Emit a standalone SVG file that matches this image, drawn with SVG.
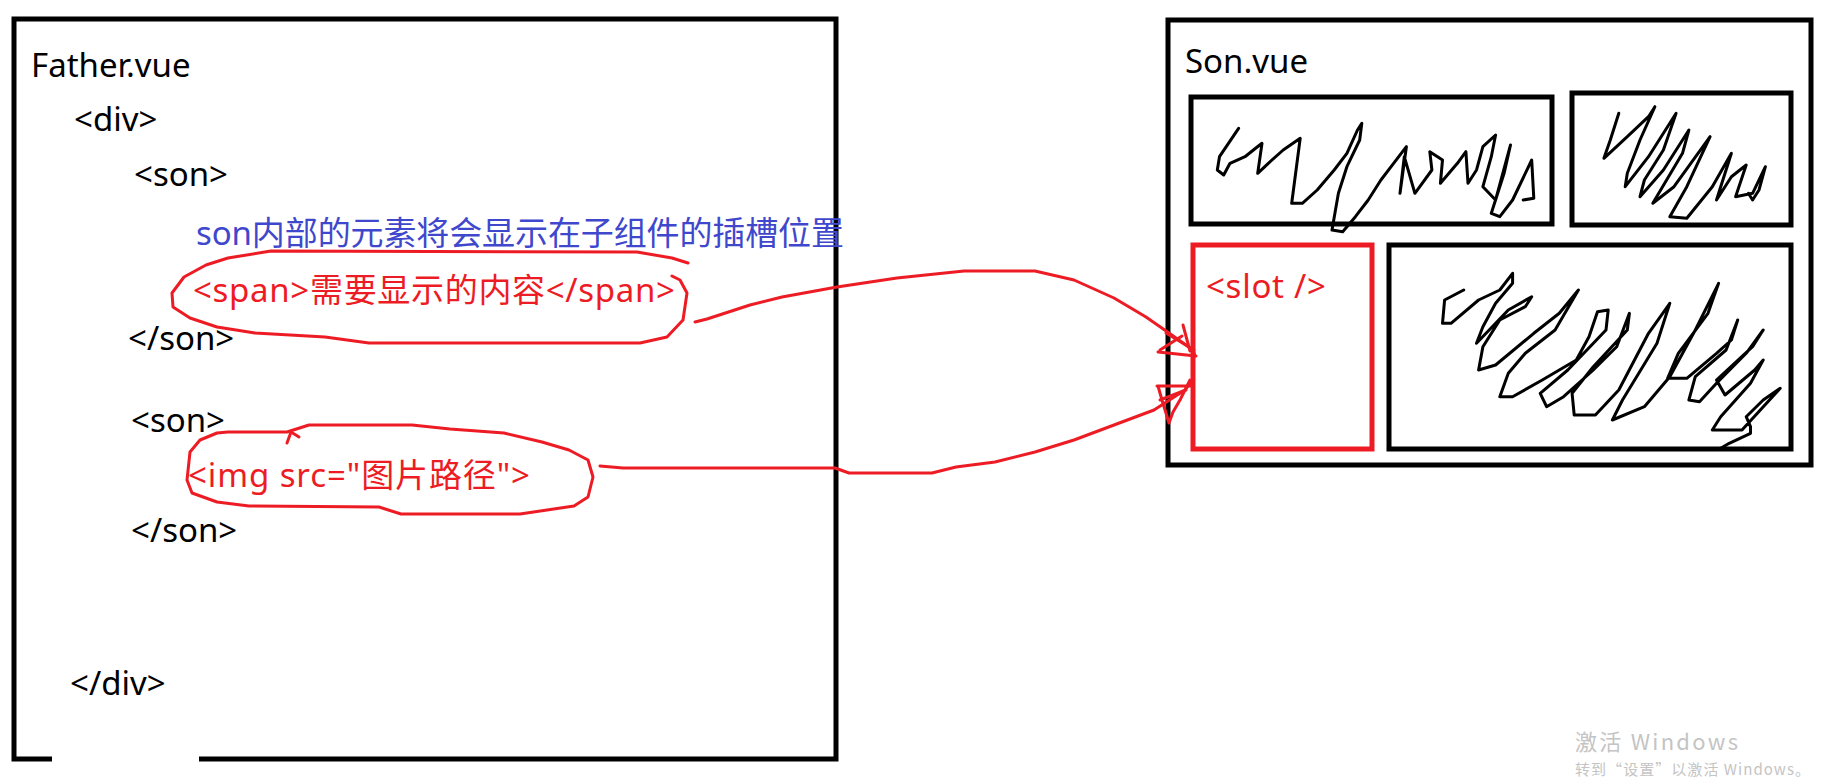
<svg xmlns="http://www.w3.org/2000/svg" width="1826" height="778" viewBox="0 0 1826 778">
<style>
  text { font-family: "Noto Sans", "Noto Sans CJK SC", sans-serif; font-size: 33px; }
  .blk { fill: #000; }
  .red { fill: #ed1c24; }
  .blue { fill: #3f48cc; }
  .box { fill: none; stroke: #000; stroke-width: 5; }
  .rbox { fill: none; stroke: #ed1c24; stroke-width: 5; }
  .hand { fill: none; stroke: #ed1c24; stroke-width: 3; stroke-linejoin: round; stroke-linecap: round; }
  .scrib { fill: none; stroke: #000; stroke-width: 3; stroke-linejoin: round; stroke-linecap: round; }
  .wm { fill: #c4c4c4; font-family: "Noto Sans CJK SC", "Noto Sans", sans-serif; }
</style>
<rect width="1826" height="778" fill="#fff"/>

<g id="father">
  <path class="box" d="M52,759 L14,759 L14,19 L836,19 L836,759 L199,759"/>
  <text class="blk" x="31" y="77">Father.vue</text>
  <text class="blk" x="74" y="131">&lt;div&gt;</text>
  <text class="blk" x="134" y="186">&lt;son&gt;</text>
  <text class="blue" x="196" y="245" textLength="648">son内部的元素将会显示在子组件的插槽位置</text>
  <text class="red" x="193" y="302" textLength="482">&lt;span&gt;需要显示的内容&lt;/span&gt;</text>
  <text class="blk" x="128" y="350">&lt;/son&gt;</text>
  <text class="blk" x="131" y="432">&lt;son&gt;</text>
  <text class="red" x="188" y="487" textLength="342">&lt;img src="图片路径"&gt;</text>
  <text class="blk" x="131" y="542">&lt;/son&gt;</text>
  <text class="blk" x="70" y="695">&lt;/div&gt;</text>
</g>

<g id="span-mark">
  <path class="hand" d="M688,263 L672,258 L637,252 L271,251 L228,258 L206,265 L184,277 L172,293 L173,307 L190,318 L217,327 L255,333 L325,337 L369,343 L640,343 L667,337 L683,320 L687,293 L680,280 L672,276"/>
</g>

<g id="img-mark">
  <path class="hand" d="M228,432 L287,432 L309,425 L412,425 L450,429 L504,433 L542,442 L569,450 L588,460 L593,477 L588,497 L574,506 L520,514 L401,514 L379,507 L249,506 L217,502 L192,493 L187,480 L190,452 L200,440 L217,433 Z"/>
  <path class="hand" d="M287,443 L291,432 L299,437"/>
</g>

<g id="son">
  <rect class="box" x="1168" y="20" width="643" height="445"/>
  <text class="blk" x="1185" y="73">Son.vue</text>
</g>

<g id="box-a">
  <rect class="box" x="1191" y="97" width="361" height="127"/>
  <polyline class="scrib" points="1238.6,128.3 1219.5,156.7 1217.3,170 1223.7,175 1230,163.3 1245,156.7 1255.6,148.3 1262,143.3 1257.7,173.3 1268.3,163.3 1283.2,150 1300.2,138.3 1291.7,203.3 1302.3,203.3 1317.2,190 1334.2,170 1346.9,153.3 1357.5,130 1361.8,123.3 1359.7,140 1346.9,166.7 1338.4,193.3 1332,230 1342.7,231.7 1355.4,216.7 1368.2,200 1380.9,180 1393.6,163.3 1406.4,146.7 1400,193.3 1404.3,156.7 1414.9,193.3 1431.9,170 1429.8,151.7 1442.5,160 1440.4,183.3 1457.4,163.3 1465.9,151.7 1468,183.3 1476.5,170 1482.9,146.7 1495.6,135 1491.3,156.7 1482.9,186.7 1495.6,200 1510.5,145 1504.1,173.3 1491.3,213.3 1499.8,216.7 1512.6,200 1531.7,160 1533.8,198.3 1523.2,200"/>
</g>

<g id="box-b">
  <rect class="box" x="1572" y="93" width="219" height="132"/>
  <polyline class="scrib" points="1618.8,113.3 1610.3,140 1603.9,158.3 1627.3,136.7 1648.5,116.7 1654.9,106.7 1640,140 1627.3,173.3 1625.2,186.7 1648.5,156.7 1676.1,113.3 1663.4,150 1644.4,180 1640,196.7 1663.4,170 1688.9,130 1682.5,153.3 1652.8,203.3 1674,186.7 1710.1,136.7 1686.8,186.7 1669.8,216.7 1686.8,218.3 1712.3,186.7 1731.4,153.3 1716.5,200 1731.4,176.7 1746.2,165 1735.6,196.7 1752.6,193.3 1765.4,166.7 1759,190 1752.6,200 1748.4,193.3"/>
</g>

<g id="slot">
  <rect class="rbox" x="1193" y="245" width="179" height="204"/>
  <text class="red" x="1206" y="298" textLength="120">&lt;slot /&gt;</text>
</g>

<g id="box-c">
  <rect class="box" x="1389" y="245" width="402" height="204"/>
  <polyline class="scrib" points="1463.7,290 1444.6,300 1442.5,323.3 1451,323.3 1478.6,300 1499.8,290 1512.6,273.3 1512.6,283.3 1495.6,303.3 1482.9,326.7 1476.5,343.3 1508.3,310 1531.7,296.7 1525.3,306.7 1499.8,320 1482.9,346.7 1478.6,370 1495.6,365 1533.8,333.3 1559.3,313.3 1578.4,290 1555.1,330 1525.3,353.3 1508.3,373.3 1499.8,396.7 1512.6,396.7 1542.3,380 1576.3,360 1589,336.7 1597.5,311.7 1608.2,310 1606,330 1567.8,370 1540.2,393.3 1546.6,406.7 1563.6,396.7 1593.3,370 1616.7,346.7 1629.4,313.3 1627.3,330 1593.3,366.7 1572.1,393.3 1574.2,415 1595.4,415 1618.8,390 1648.5,333.3 1669.8,303.3 1657,343.3 1622.5,400 1612.4,420 1644.4,406.7 1669.8,376.7 1695.3,330 1718.6,283.3 1708,313.3 1678.3,353.3 1667.6,378.3 1686.8,378.3 1716.5,353.3 1731.4,340 1737.7,320 1726.1,350 1695.3,376.7 1688.9,400 1699.5,401.7 1716.5,383.3 1746.2,353.3 1763.2,330 1752.6,346.7 1716.5,380 1725,395 1754.7,370 1763.2,360 1750.5,383.3 1720.7,416.7 1712.3,430 1742,430 1780.2,388.3 1763.2,400 1746.2,416.7 1750.5,426.7 1750.5,433.3 1729.2,443.3 1720.7,448.3"/>
</g>

<g id="connectors">
  <path class="hand" d="M695,322 L707,319 L750,305 L782,297 L837,287 L897,278 L964,271 L1035,271 L1074,280 L1114,298 L1146,317 L1169,333 L1193,350 L1195,356"/>
  <path class="hand" d="M1158,352 L1196,356 M1160,350 L1182,336 M1166,333 L1194,350 M1183,325 L1190,351"/>
  <path class="hand" d="M600,466 L623,468 L835,468 L849,473 L932,473 L956,467 L995,462 L1035,452 L1074,440 L1114,425 L1154,410 L1185,390 L1191,382"/>
  <path class="hand" d="M1157,386 L1190,386 M1158,386 L1162,400 L1169,423 L1173,412 L1180,400 L1186,388 L1190,380 M1160,400 L1186,390"/>
</g>

<g id="watermark">
  <text class="wm" x="1575" y="750" style="font-size:22px" textLength="163">激活 Windows</text>
  <text class="wm" x="1575" y="775" style="font-size:15px" textLength="235">转到“设置”以激活 Windows。</text>
</g>
</svg>
